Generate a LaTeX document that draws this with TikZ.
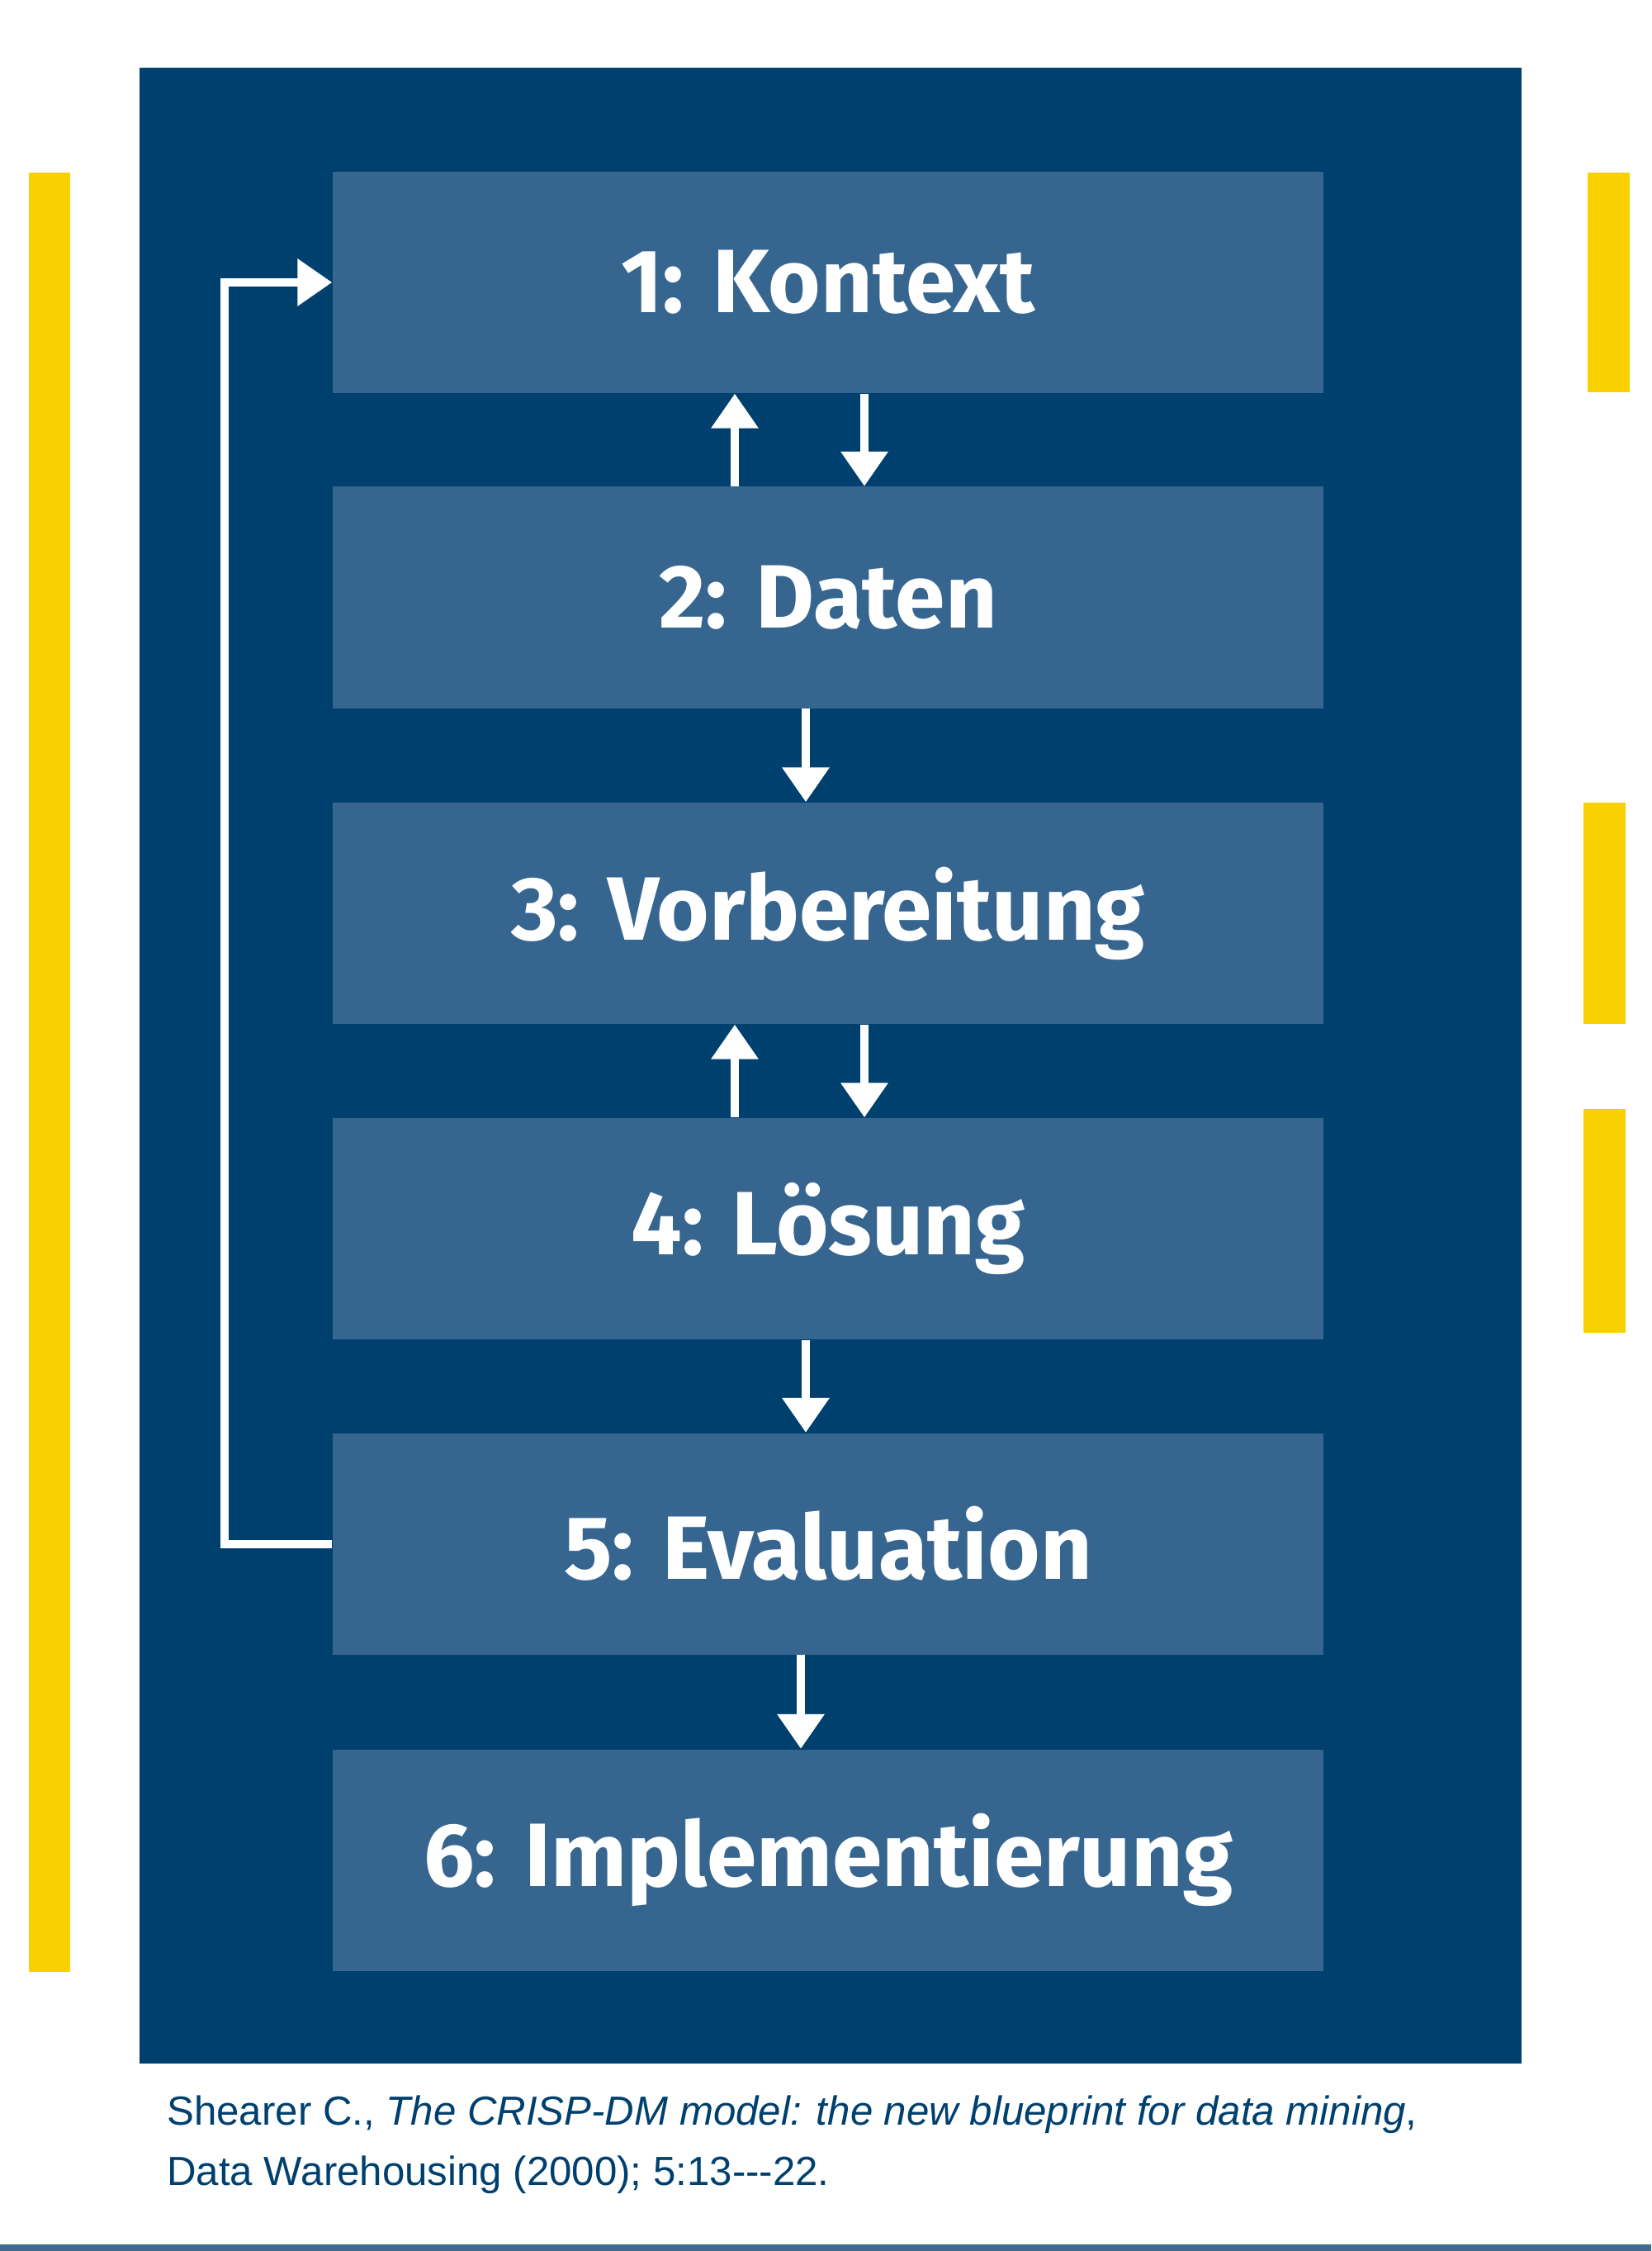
\documentclass[tikz,border=0pt]{standalone}
\usepackage{fontspec}
\setmainfont{Fira Sans}
\newfontfamily\capfont{Liberation Sans}
\usetikzlibrary{arrows.meta, positioning}
\definecolor{navy}{HTML}{00406F}
\definecolor{boxblue}{HTML}{36668F}
\definecolor{gold}{HTML}{FAD100}
\definecolor{rule}{HTML}{3E6A90}
\begin{document}
\begin{tikzpicture}[x=1cm,y=1cm,
    phase/.style={fill=boxblue, minimum width=12cm, minimum height=2.68cm, text=white,
        font=\fontsize{31}{36}\selectfont\bfseries},
    flow/.style={draw=white, line width=0.1cm, -{Triangle[width=0.55cm,length=0.42cm]}}]
    % Frame and background
    \useasboundingbox (0,0) rectangle (20,-27.26);
    \fill[navy] (1.69,-0.82) rectangle (18.43,-24.99);
    \fill[rule] (0,-27.18) rectangle (20,-27.26);

    % Yellow side bars
    \fill[gold] (0.35,-2.09) rectangle (0.85,-23.88);
    \fill[gold] (19.23,-2.09) rectangle (19.74,-4.75);
    \fill[gold] (19.18,-9.72) rectangle (19.69,-12.40);
    \fill[gold] (19.18,-13.43) rectangle (19.69,-16.14);

    % Phases
    \node[phase] (k) at (10.03,-3.42) {1: Kontext};
    \node[phase] (d) at (10.03,-7.235) {2: Daten};
    \node[phase] (v) at (10.03,-11.06) {3: Vorbereitung};
    \node[phase] (l) at (10.03,-14.88) {4: Lösung};
    \node[phase] (e) at (10.03,-18.695) {5: Evaluation};
    \node[phase] (i) at (10.03,-22.525) {6: Implementierung};

    % Arrows between phases
    \draw[flow] ([xshift=-1.13cm]d.north) -- ([xshift=-1.13cm]k.south);
    \draw[flow] ([xshift=0.44cm]k.south) -- ([xshift=0.44cm]d.north);
    \draw[flow] ([xshift=-0.27cm]d.south) -- ([xshift=-0.27cm]v.north);
    \draw[flow] ([xshift=-1.13cm]l.north) -- ([xshift=-1.13cm]v.south);
    \draw[flow] ([xshift=0.44cm]v.south) -- ([xshift=0.44cm]l.north);
    \draw[flow] ([xshift=-0.27cm]l.south) -- ([xshift=-0.27cm]e.north);
    \draw[flow] ([xshift=-0.33cm]e.south) -- ([xshift=-0.33cm]i.north);

    % Feedback loop
    \draw[flow] (e.west) -- ++(-1.3,0) |- (k.west);

    % Source
    \node[anchor=north west, align=left, text=navy, font=\capfont\fontsize{14}{21}\selectfont]
        (src) at (1.9,-25.25) {Shearer C., \textit{The CRISP-DM model: the new blueprint for data mining},\\
        Data Warehousing (2000); 5:13---22.};
\end{tikzpicture}
\end{document}
